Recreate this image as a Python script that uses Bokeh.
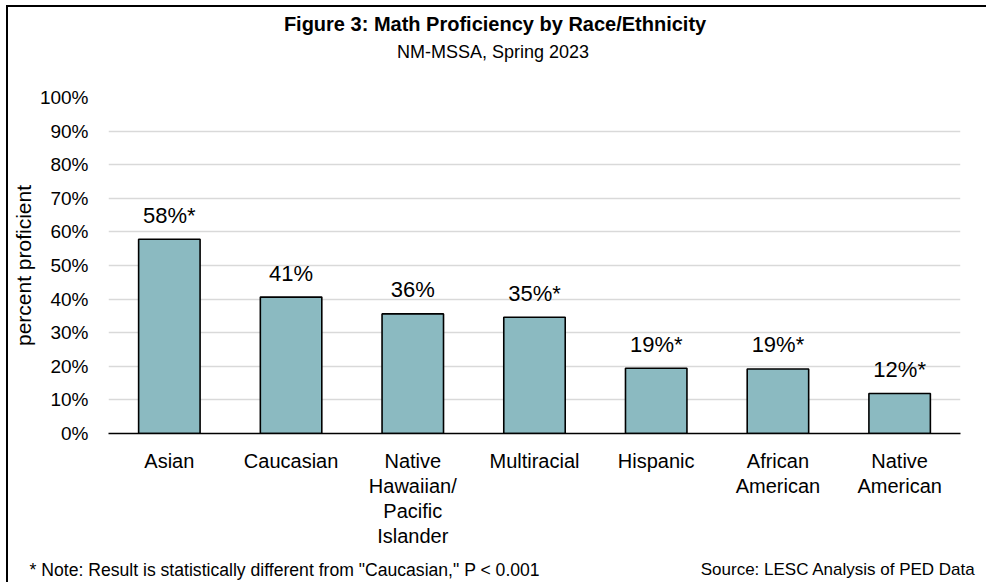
from bokeh.plotting import figure
from bokeh.models import (ColumnDataSource, Range1d, LinearAxis, FixedTicker, LinearScale,
                          SingleIntervalTicker, PrintfTickFormatter)
from bokeh.core.properties import value
from bokeh.embed import file_html
from bokeh.resources import INLINE

# ---- data ----
categories = ["Asian", "Caucasian", "Native Hawaiian/Pacific Islander", "Multiracial",
              "Hispanic", "African American", "Native American"]
category_tick_labels = ["Asian", "Caucasian", "Native\nHawaiian/\nPacific\nIslander", "Multiracial",
                        "Hispanic", "African\nAmerican", "Native\nAmerican"]
percent_proficient = [57.8, 40.6, 35.6, 34.6, 19.4, 19.2, 11.9]
value_labels = ["58%*", "41%", "36%", "35%*", "19%*", "19%*", "12%*"]

title_text = "Figure 3: Math Proficiency by Race/Ethnicity"
subtitle_text = "NM-MSSA, Spring 2023"
note_text = '* Note: Result is statistically different from "Caucasian," P < 0.001'
source_text = "Source: LESC Analysis of PED Data"

FONT = "Liberation Sans"
BAR_COLOR = "#8BBAC1"

# category slots on a numeric axis: slot i spans [i, i+1]
cat_pos = [i + 0.5 for i in range(len(categories))]
src = ColumnDataSource(dict(x=cat_pos, cat=categories, val=percent_proficient, lab=value_labels))

W, H = 980, 577
FRAME_L, FRAME_R = 107, 960   # page pixel positions of the plot frame edges
p = figure(x_range=Range1d(0, len(categories)), y_range=Range1d(0, 100),
           width=W, height=H, output_backend="svg", toolbar_location=None,
           min_border_left=99, min_border_right=28, min_border_top=90, min_border_bottom=151)
p.styles = {"margin-left": "6px", "margin-top": "5px",
            "border-left": "2px solid #000", "border-top": "2px solid #000"}

p.vbar(x="x", top="val", width=0.505, source=src,
       fill_color=BAR_COLOR, line_color="black", line_width=1.6)

p.text(x="x", y="val", text="lab", source=src, y_offset=-24,
       text_align="center", text_baseline="alphabetic",
       text_font=value(FONT), text_font_size="22px", text_color="#000000")

p.xaxis.visible = False
p.extra_x_ranges = {"page": Range1d(FRAME_L, FRAME_R)}
p.extra_x_scales = {"page": LinearScale()}


def text_axis(place, range_name, ticks, labels, size, standoff, bold=False, line=False):
    kw = {} if range_name is None else {"x_range_name": range_name}
    ax = LinearAxis(ticker=FixedTicker(ticks=ticks, minor_ticks=[]),
                    major_label_overrides=dict(zip(ticks, labels)),
                    major_tick_line_color=None, minor_tick_line_color=None,
                    major_tick_out=0, major_tick_in=0, minor_tick_out=0, minor_tick_in=0,
                    axis_line_color="black" if line else None, axis_line_width=1.6,
                    major_label_text_font=FONT, major_label_text_font_size=size,
                    major_label_text_font_style="bold" if bold else "normal",
                    major_label_text_color="#000000", major_label_standoff=standoff, **kw)
    p.add_layout(ax, place)
    return ax


# category labels: one stacked axis row per wrapped line
split_labels = [lab.split("\n") for lab in category_tick_labels]
n_lines = max(len(s) for s in split_labels)
for k in range(n_lines):
    idx = [i for i, s in enumerate(split_labels) if len(s) > k]
    text_axis("below", None, [cat_pos[i] for i in idx], [split_labels[i][k] for i in idx],
              "20px", 16 if k == 0 else 0, line=(k == 0))

# footnotes row (label centres in page pixels)
NOTE_SIZE, SOURCE_SIZE = 17.6, 17
note_w = 29.03 * NOTE_SIZE        # Arial-metric width of the note text
source_w = 16.17 * SOURCE_SIZE    # Arial-metric width of the source text
text_axis("below", "page", [28 + note_w / 2], [note_text], f"{NOTE_SIZE}px", 10)
# the source sits on the same row as the note: pulled back up by its own height
text_axis("below", "page", [975 - source_w / 2], [source_text], f"{SOURCE_SIZE}px", -23)

# subtitle (closest to the frame) then title
text_axis("above", "page", [492], [subtitle_text], "18px", 36)
text_axis("above", "page", [494], [title_text], "20px", 4, bold=True)

p.yaxis.ticker = SingleIntervalTicker(interval=10)
p.yaxis.formatter = PrintfTickFormatter(format="%d%%")
p.yaxis.axis_line_color = None
p.yaxis.major_tick_line_color = None
p.yaxis.minor_tick_line_color = None
p.yaxis.major_tick_out = 0
p.yaxis.major_tick_in = 0
p.yaxis.minor_tick_out = 0
p.yaxis.major_label_text_font = FONT
p.yaxis.major_label_text_font_size = "19px"
p.yaxis.major_label_text_color = "#000000"
p.yaxis.major_label_standoff = 20
p.yaxis.axis_label = "percent proficient"
p.yaxis.axis_label_text_font = FONT
p.yaxis.axis_label_text_font_size = "21px"
p.yaxis.axis_label_text_font_style = "normal"
p.yaxis.axis_label_text_color = "#000000"
p.yaxis.axis_label_standoff = 2

p.xgrid.grid_line_color = None
p.ygrid.grid_line_color = "#d9d9d9"
p.ygrid.grid_line_width = 1.6
p.outline_line_color = None
p.background_fill_color = "white"
p.border_fill_color = "white"

open("out.html", "w").write(file_html(p, INLINE))
